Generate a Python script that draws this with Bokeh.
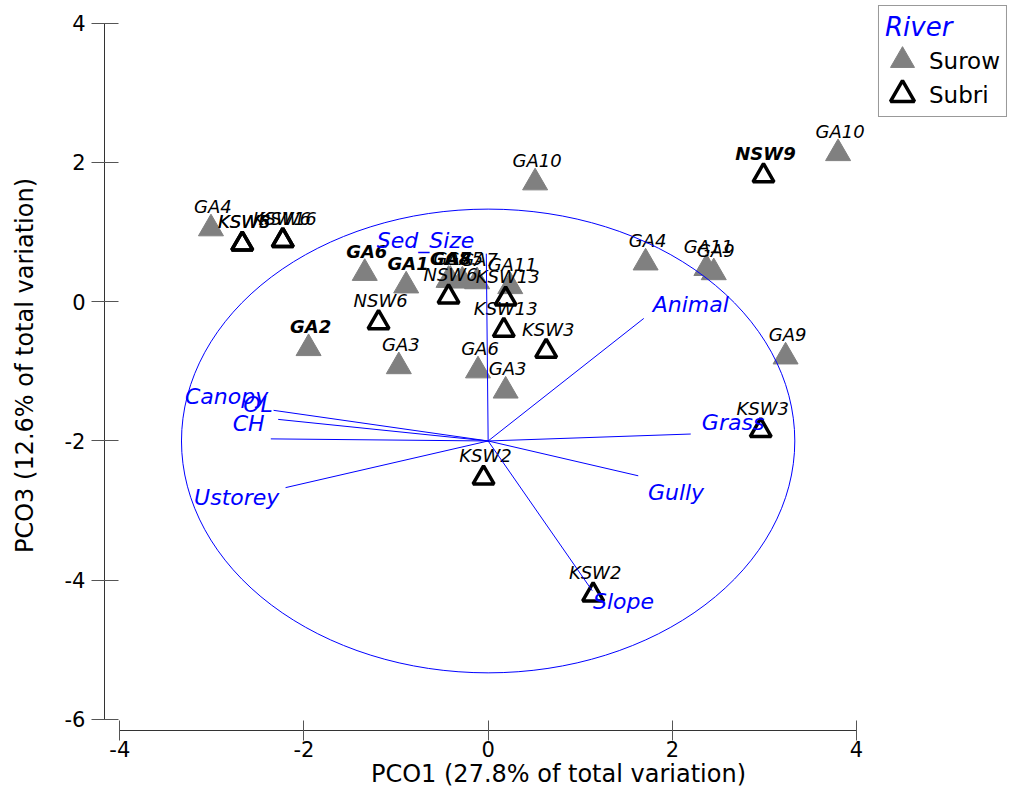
from bokeh.plotting import figure
from bokeh.models import Range1d, FixedTicker, Legend, LegendItem, ColumnDataSource
from bokeh.core.properties import value
from bokeh.embed import file_html
from bokeh.resources import INLINE

# ---------------- data ----------------
surow_labels = ["GA4", "GA10", "GA10", "GA6", "GA1", "GA8", "GA7", "GA5", "GA7", "GA11",
                "GA4", "GA11", "GA9", "GA9", "GA2", "GA3", "GA6", "GA3"]
surow_x = [-3.01, 0.51, 3.80, -1.34, -0.89, -0.43, -0.41, -0.28, -0.12, 0.24,
           1.71, 2.37, 2.45, 3.23, -1.95, -0.97, -0.11, 0.19]
surow_y = [1.05, 1.71, 2.13, 0.41, 0.23, 0.31, 0.31, 0.30, 0.29, 0.22,
           0.56, 0.48, 0.42, -0.79, -0.67, -0.93, -0.99, -1.28]

subri_labels = ["KSW5", "KSW8", "KSW6", "KSW16", "NSW6", "KSW13", "NSW6", "KSW13",
                "KSW3", "NSW9", "KSW3", "KSW2", "KSW2"]
subri_x = [-2.67, -2.67, -2.23, -2.23, -0.43, 0.19, -1.19, 0.17, 0.63, 2.99, 2.96, -0.05, 1.14]
subri_y = [0.83, 0.83, 0.88, 0.88, 0.07, 0.04, -0.30, -0.41, -0.71, 1.81, -1.85, -2.53, -4.21]

vec_names = ["Sed_Size", "Animal", "Grass", "Gully", "Slope", "Canopy", "OL", "CH", "Ustorey"]
vec_x = [-0.02, 1.69, 2.20, 1.63, 1.13, -2.33, -2.28, -2.36, -2.20]
vec_y = [0.69, -0.24, -1.90, -2.50, -4.15, -1.56, -1.69, -1.97, -2.67]
vec_label_x = [-0.68, 2.20, 2.66, 2.04, 1.47, -2.84, -2.50, -2.60, -2.73]
vec_label_y = [0.88, -0.04, -1.74, -2.74, -4.30, -1.36, -1.48, -1.75, -2.81]
origin_x = 0.0
origin_y = -2.0
circle_radius = 3.33

x_ticks = [-4, -2, 0, 2, 4]
x_tick_labels = ["-4", "-2", "0", "2", "4"]
y_ticks = [-6, -4, -2, 0, 2, 4]
y_tick_labels = ["-6", "-4", "-2", "0", "2", "4"]

x_title = "PCO1 (27.8% of total variation)"
y_title = "PCO3 (12.6% of total variation)"
legend_title = "River"
group_names = ["Surow", "Subri"]

# ---------------- figure ----------------
FONT = "DejaVu Sans"
BLUE = "#0000FF"
W, H = 1012, 791
BORDER_L, BORDER_B = 104, 61
FRAME_BOTTOM = H - BORDER_B

p = figure(width=W, height=H, output_backend="svg", toolbar_location=None,
           x_range=Range1d(-4.166, 5.694), y_range=Range1d(-6.158, 4.326),
           min_border_left=BORDER_L, min_border_right=0, min_border_top=0,
           min_border_bottom=BORDER_B)
p.outline_line_color = None
p.xgrid.visible = False
p.ygrid.visible = False
p.background_fill_color = "white"

for ax, ticks, labels in ((p.xaxis[0], x_ticks, x_tick_labels), (p.yaxis[0], y_ticks, y_tick_labels)):
    ax.ticker = FixedTicker(ticks=ticks)
    ax.major_label_overrides = {t: l for t, l in zip(ticks, labels)}
    ax.bounds = (ticks[0], ticks[-1])
    ax.minor_tick_line_color = None
    ax.axis_line_color = "#333333"
    ax.major_tick_line_color = "#555555"
    ax.major_label_text_font = FONT
    ax.major_label_text_font_size = "21px"
    ax.major_label_text_color = "black"
    ax.axis_label_text_font = FONT
    ax.axis_label_text_font_size = "24px"
    ax.axis_label_text_font_style = "normal"
    ax.axis_label_text_color = "black"

p.xaxis.axis_label = x_title
p.yaxis.axis_label = y_title
p.xaxis.major_tick_in = 10
p.xaxis.major_tick_out = 10
p.xaxis.major_label_standoff = 0
p.xaxis.axis_label_standoff = 0
p.yaxis.major_tick_in = 14
p.yaxis.major_tick_out = 13
p.yaxis.major_label_standoff = 6
p.yaxis.axis_label_standoff = 23

# points
src_a = ColumnDataSource(dict(x=surow_x, y=surow_y, lab=surow_labels))
src_b = ColumnDataSource(dict(x=subri_x, y=subri_y, lab=subri_labels))

r_a = p.scatter("x", "y", source=src_a, marker="triangle", size=25,
                fill_color="#808080", line_color="#808080", line_width=1)
r_b = p.scatter("x", "y", source=src_b, marker="triangle", size=21,
                fill_color=None, line_color="black", line_width=3.5)

bold_a = {3, 4, 5, 14}
bold_b = {9}
src_a.data["fs"] = ["bold italic" if i in bold_a else "italic" for i in range(len(surow_labels))]
src_b.data["fs"] = ["bold italic" if i in bold_b else "italic" for i in range(len(subri_labels))]
for src in (src_a, src_b):
    p.text("x", "y", text="lab", source=src, text_font=value(FONT), text_font_style="fs",
           text_font_size="18px", text_color="black", text_align="center",
           text_baseline="middle", x_offset=2, y_offset=-22)

# biplot vectors and circle
p.ellipse(x=[origin_x], y=[origin_y], width=2 * circle_radius, height=2 * circle_radius,
          fill_color=None, line_color=BLUE, line_width=1)
p.segment(x0=[origin_x] * len(vec_x), y0=[origin_y] * len(vec_y), x1=vec_x, y1=vec_y,
          line_color=BLUE, line_width=1)
p.text(x=vec_label_x, y=vec_label_y, text=vec_names, text_font=value(FONT),
       text_font_style="italic", text_font_size="22px", text_color=BLUE,
       text_align="center", text_baseline="middle")

# legend: box, title and labels (glyph keys hidden, drawn larger below)
legend = Legend(items=[LegendItem(label=group_names[0], renderers=[r_a]),
                       LegendItem(label=group_names[1], renderers=[r_b])],
                location="top_right", margin=5, title=legend_title,
                title_text_color=BLUE, title_text_font_style="italic",
                title_text_font_size="26px", title_text_font=FONT, title_standoff=4,
                label_text_font=FONT, label_text_font_size="23px", label_text_color="black",
                glyph_width=0, glyph_height=30, label_height=30, spacing=4,
                padding=6, label_standoff=44,
                border_line_color="#333333", border_line_width=1,
                background_fill_color="white", background_fill_alpha=1.0)
p.add_layout(legend)

# larger legend keys
key_left = 872 - BORDER_L
for r, key_bottom in ((r_a, 90), (r_b, 124)):
    key = Legend(items=[LegendItem(label="", renderers=[r])],
                 location=(key_left, FRAME_BOTTOM - key_bottom), margin=0, padding=0,
                 glyph_width=60, glyph_height=60, label_height=60, label_standoff=0,
                 spacing=0, border_line_color=None, background_fill_alpha=0.0,
                 label_text_font_size="10px")
    p.add_layout(key)

open("out.html", "w").write(file_html(p, INLINE))
